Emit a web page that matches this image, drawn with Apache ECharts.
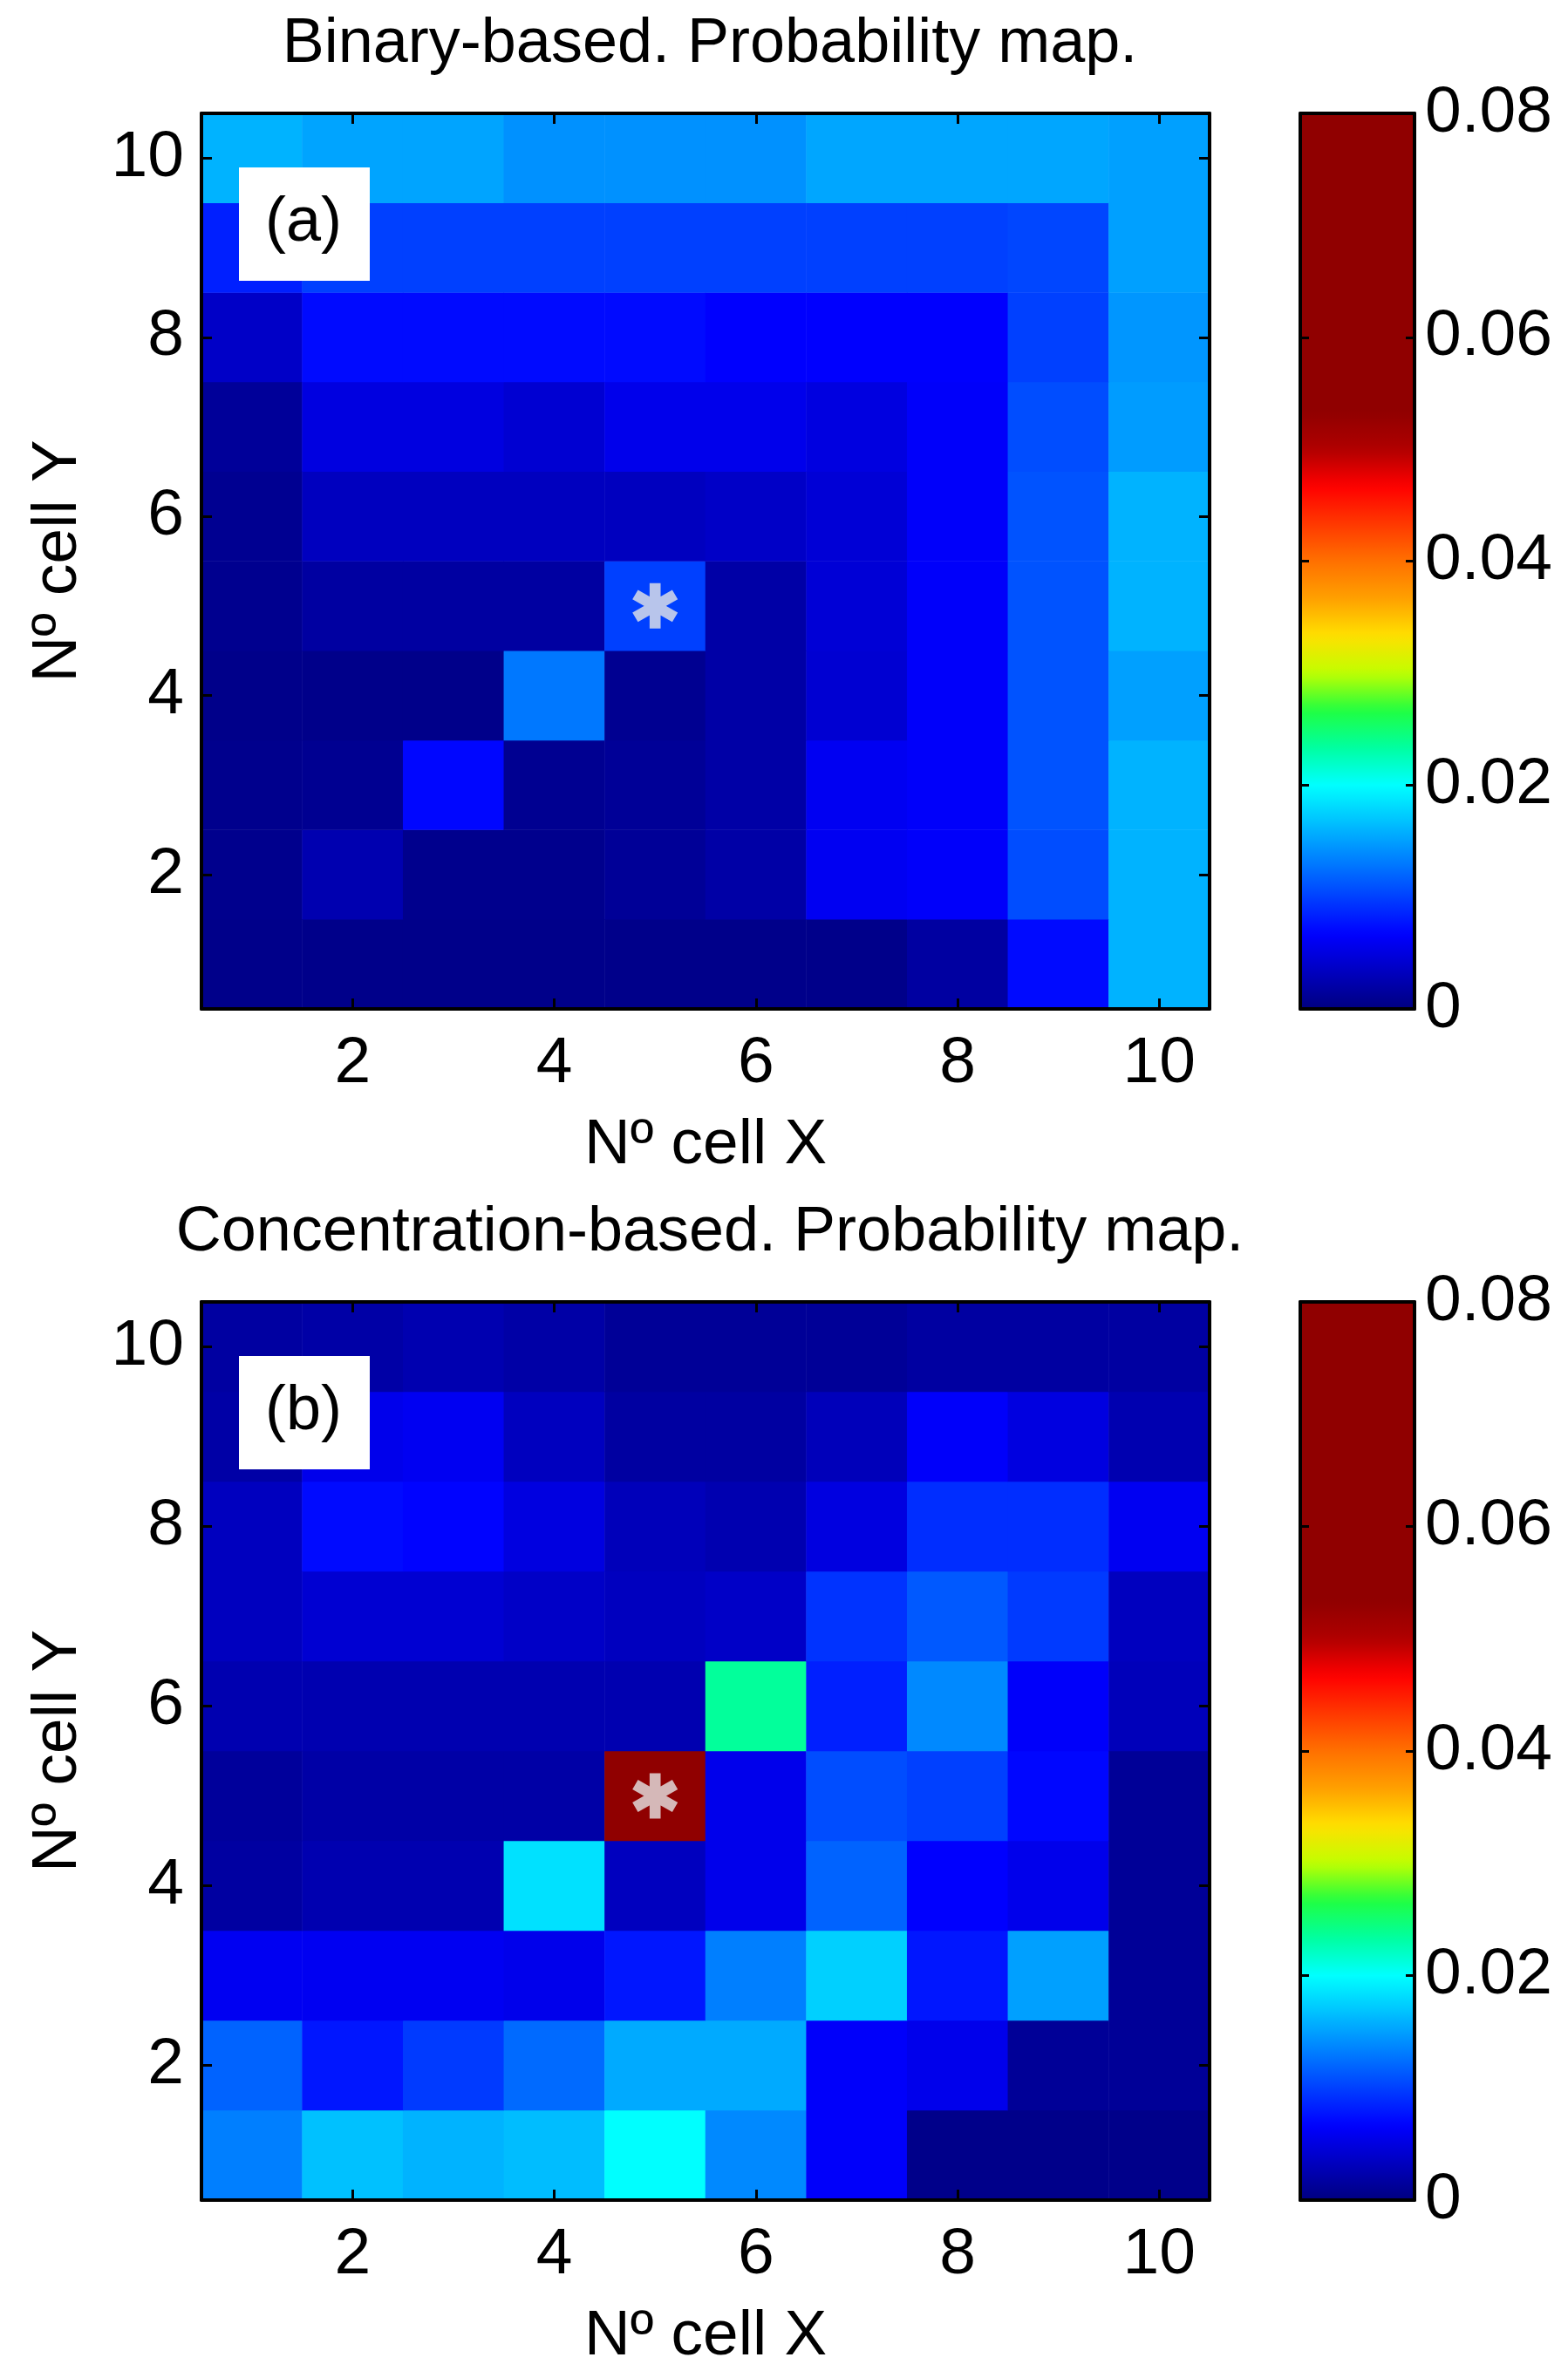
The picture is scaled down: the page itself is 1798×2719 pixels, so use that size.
<!DOCTYPE html>
<html>
<head>
<meta charset="utf-8">
<script src="https://cdn.jsdelivr.net/npm/echarts@6/dist/echarts.min.js"></script>
<style>
  html, body { margin: 0; padding: 0; background: #fff; }
  #chart { width: 1798px; height: 2719px; }
</style>
</head>
<body>
<div id="chart"></div>
<script>
// cell numbers along both axes
const cellIds = ["1", "2", "3", "4", "5", "6", "7", "8", "9", "10"];
// colorbar ticks
const barTicks = [0, 0.02, 0.04, 0.06, 0.08];
// source cell (marked with *)
const sourceCell = ["5", "5"];

// probability per cell, rows go from Y=1 (bottom) to Y=10 (top), columns X=1..10
const binaryProb = [
  [0.0005, 0.0005, 0.0005, 0.0005, 0.0005, 0.0005, 0.0005, 0.0017, 0.0072, 0.0160],
  [0.0007, 0.0025, 0.0007, 0.0007, 0.0012, 0.0020, 0.0060, 0.0064, 0.0107, 0.0160],
  [0.0007, 0.0009, 0.0070, 0.0009, 0.0012, 0.0020, 0.0060, 0.0064, 0.0110, 0.0160],
  [0.0005, 0.0005, 0.0005, 0.0129, 0.0009, 0.0020, 0.0043, 0.0064, 0.0110, 0.0150],
  [0.0008, 0.0017, 0.0017, 0.0017, 0.0100, 0.0020, 0.0045, 0.0064, 0.0110, 0.0160],
  [0.0009, 0.0033, 0.0033, 0.0033, 0.0033, 0.0037, 0.0045, 0.0064, 0.0110, 0.0160],
  [0.0013, 0.0050, 0.0050, 0.0043, 0.0056, 0.0056, 0.0050, 0.0064, 0.0107, 0.0148],
  [0.0037, 0.0072, 0.0072, 0.0072, 0.0072, 0.0066, 0.0066, 0.0066, 0.0100, 0.0145],
  [0.0083, 0.0100, 0.0100, 0.0100, 0.0100, 0.0100, 0.0100, 0.0100, 0.0103, 0.0150],
  [0.0160, 0.0152, 0.0152, 0.0142, 0.0142, 0.0142, 0.0153, 0.0153, 0.0153, 0.0150],
];

const concProb = [
  [0.0133, 0.0167, 0.0160, 0.0165, 0.0200, 0.0138, 0.0064, 0.0005, 0.0005, 0.0005],
  [0.0118, 0.0078, 0.0097, 0.0122, 0.0155, 0.0155, 0.0064, 0.0056, 0.0012, 0.0012],
  [0.0060, 0.0060, 0.0060, 0.0056, 0.0078, 0.0133, 0.0175, 0.0078, 0.0150, 0.0012],
  [0.0017, 0.0025, 0.0025, 0.0184, 0.0033, 0.0056, 0.0118, 0.0066, 0.0056, 0.0012],
  [0.0014, 0.0020, 0.0020, 0.0020, 0.0750, 0.0056, 0.0107, 0.0100, 0.0070, 0.0012],
  [0.0025, 0.0025, 0.0025, 0.0025, 0.0025, 0.0235, 0.0083, 0.0138, 0.0064, 0.0030],
  [0.0033, 0.0043, 0.0043, 0.0037, 0.0033, 0.0037, 0.0093, 0.0113, 0.0097, 0.0033],
  [0.0033, 0.0072, 0.0068, 0.0050, 0.0030, 0.0025, 0.0050, 0.0090, 0.0090, 0.0060],
  [0.0020, 0.0056, 0.0060, 0.0033, 0.0017, 0.0017, 0.0030, 0.0064, 0.0050, 0.0025],
  [0.0017, 0.0020, 0.0025, 0.0020, 0.0012, 0.0012, 0.0012, 0.0017, 0.0017, 0.0017],
];

// jet-like palette, evenly spaced over 0..0.08 (saturates to dark red above ~0.053)
const jetColors = [
  "#000080", "#0000c0", "#0000ff", "#0040ff", "#0080ff", "#00c0ff", "#00ffff",
  "#00ffa0", "#20ff40", "#c0ff00", "#ffe000", "#ffa000", "#ff7000", "#ff3800",
  "#ff0000", "#b00000", "#900000", "#900000", "#900000", "#900000", "#900000",
  "#900000", "#900000", "#900000", "#900000",
];

const FONT = "Liberation Sans";
const black = "#000";

function toCells(rows) {
  const out = [];
  rows.forEach((row, yi) => {
    row.forEach((v, xi) => {
      out.push([xi, yi, v]);
    });
  });
  return out;
}

const evenIdx = (i) => i % 2 === 1;

function catAxis(gridIndex, pos, withLabel, name, nameGap, isY) {
  return {
    type: "category",
    gridIndex,
    position: pos,
    data: cellIds,
    z: 10,
    name: name || "",
    nameLocation: "middle",
    nameGap: nameGap || 0,
    nameTextStyle: { fontFamily: FONT, fontSize: 73, color: black },
    axisLine: { show: true, onZero: false, lineStyle: { color: black, width: 4 } },
    axisTick: {
      show: true,
      inside: true,
      alignWithLabel: true,
      interval: evenIdx,
      length: 12,
      lineStyle: { color: black, width: 3 },
    },
    axisLabel: {
      show: withLabel,
      interval: evenIdx,
      fontFamily: FONT,
      fontSize: 75,
      color: black,
      margin: isY ? 20 : 26,
    },
    splitLine: { show: false },
  };
}

function barXAxis(gridIndex, pos) {
  return {
    type: "category",
    gridIndex,
    position: pos,
    data: [""],
    z: 10,
    axisLine: { show: true, onZero: false, lineStyle: { color: black, width: 4 } },
    axisTick: { show: false },
    axisLabel: { show: false },
  };
}

function barYAxis(gridIndex, pos, withLabel) {
  return {
    type: "value",
    gridIndex,
    position: pos,
    min: barTicks[0],
    max: barTicks[barTicks.length - 1],
    interval: barTicks[1] - barTicks[0],
    z: 10,
    axisLine: { show: true, onZero: false, lineStyle: { color: black, width: 4 } },
    axisTick: { show: true, inside: true, length: 10, lineStyle: { color: black, width: 3 } },
    axisLabel: {
      show: withLabel,
      fontFamily: FONT,
      fontSize: 75,
      color: black,
      margin: 12,
      formatter: (v) => (v === 0 ? "0" : v.toFixed(2)),
    },
    splitLine: { show: false },
  };
}

// six-armed asterisk
const starPath =
  "path://M-2.4,-10L2.4,-10L2.4,10L-2.4,10Z" +
  "M7.46,-7.08L9.86,-2.92L-7.46,7.08L-9.86,2.92Z" +
  "M-9.86,-2.92L-7.46,-7.08L9.86,2.92L7.46,7.08Z";

const panels = [
  { top: 130, height: 1027, title: "Binary-based. Probability map.", titleTop: 10, tag: "(a)", data: binaryProb },
  { top: 1493, height: 1030, title: "Concentration-based. Probability map.", titleTop: 1373, tag: "(b)", data: concProb },
];

const plotLeft = 231, plotWidth = 1156;
const barLeft = 1491, barWidth = 131;

const option = {
  backgroundColor: "#fff",
  animation: false,
  title: [],
  grid: [],
  xAxis: [],
  yAxis: [],
  visualMap: [],
  series: [],
  graphic: { elements: [] },
};

panels.forEach((p, k) => {
  const g = k * 2;
  option.title.push({
    text: p.title,
    left: plotLeft + plotWidth / 2,
    textAlign: "center",
    top: p.titleTop,
    textStyle: { fontFamily: FONT, fontSize: 72, fontWeight: "normal", color: black },
  });
  option.grid.push({ left: plotLeft, top: p.top, width: plotWidth, height: p.height });
  option.grid.push({ left: barLeft, top: p.top, width: barWidth, height: p.height });

  const ax = option.xAxis.length;
  option.xAxis.push(catAxis(g, "bottom", true, "N\u00ba cell X", 120, false));
  option.xAxis.push(catAxis(g, "top", false));
  option.xAxis.push(barXAxis(g + 1, "bottom"));
  option.xAxis.push(barXAxis(g + 1, "top"));
  const ay = option.yAxis.length;
  option.yAxis.push(catAxis(g, "left", true, "N\u00ba cell Y", 128, true));
  option.yAxis.push(catAxis(g, "right", false));
  option.yAxis.push(barYAxis(g + 1, "left", false));
  option.yAxis.push(barYAxis(g + 1, "right", true));

  const si = option.series.length;
  option.series.push({
    type: "heatmap",
    xAxisIndex: ax,
    yAxisIndex: ay,
    data: toCells(p.data),
    itemStyle: { borderWidth: 0 },
    emphasis: { disabled: true },
  });
  option.series.push({
    type: "scatter",
    xAxisIndex: ax,
    yAxisIndex: ay,
    data: [sourceCell],
    symbol: starPath,
    symbolSize: 52,
    itemStyle: { color: "#e6e6e6" },
    z: 5,
  });

  option.visualMap.push({
    type: "continuous",
    seriesIndex: si,
    min: barTicks[0],
    max: barTicks[barTicks.length - 1],
    calculable: false,
    hoverLink: false,
    left: barLeft,
    top: p.top,
    itemWidth: barWidth,
    itemHeight: p.height,
    padding: 0,
    text: null,
    showLabel: false,
    inRange: { color: jetColors },
  });

  // panel tag box
  option.graphic.elements.push({
    type: "rect",
    left: 274,
    top: p.top + 62,
    z: 100,
    shape: { width: 150, height: 130 },
    style: { fill: "#fff" },
  });
  option.graphic.elements.push({
    type: "text",
    left: 349 - 45,
    top: p.top + 62 + 28,
    z: 101,
    style: {
      text: p.tag,
      font: "72px " + FONT,
      fill: black,
    },
  });
});

const chart = echarts.init(document.getElementById("chart"));
chart.setOption(option);
</script>
</body>
</html>
